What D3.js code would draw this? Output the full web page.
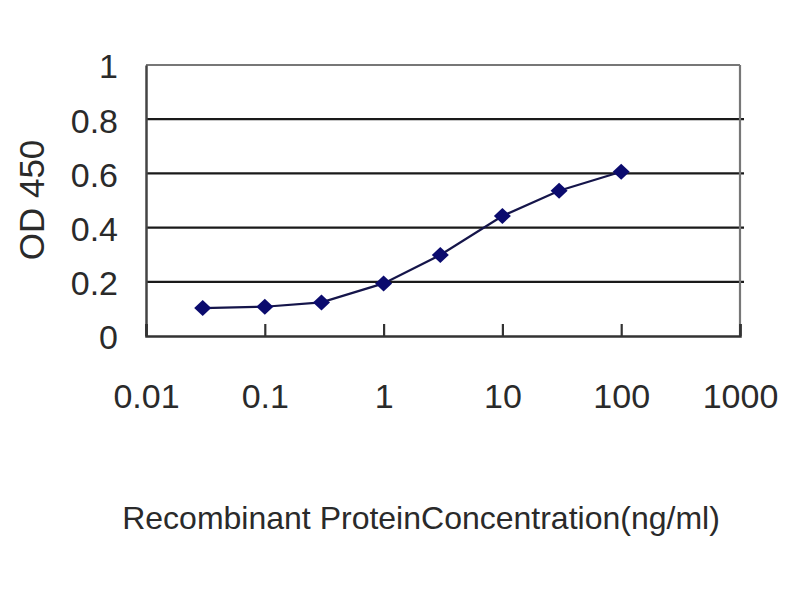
<!DOCTYPE html>
<html>
<head>
<meta charset="utf-8">
<script src="https://cdn.jsdelivr.net/npm/d3@7"></script>
<style>
  body { margin: 0; background: #fff; }
  text { font-family: "Liberation Sans", Arial, sans-serif; fill: #2a2a2a; }
</style>
</head>
<body>
<div id="chart-area"></div>
<script>
// concentration (ng/ml) and OD 450 readings
var concentrations = [0.03, 0.1, 0.3, 1, 3, 10, 30, 100];
var odValues = [0.103, 0.108, 0.124, 0.194, 0.299, 0.443, 0.536, 0.606];
var xTicks = [0.01, 0.1, 1, 10, 100, 1000];
var yTicks = [0, 0.2, 0.4, 0.6, 0.8, 1];

var margin = {left: 146, right: 60, top: 65, bottom: 264};
var width = 800 - margin.left - margin.right;
var height = 600 - margin.top - margin.bottom;

var svg = d3.select("#chart-area").append("svg")
    .attr("width", 800)
    .attr("height", 600);

var g = svg.append("g")
    .attr("transform", "translate(" + margin.left + "," + margin.top + ")");

var x = d3.scaleLog()
    .domain([0.01, 1000])
    .range([0, width]);

var y = d3.scaleLinear()
    .domain([0, 1])
    .range([height, 0]);

// gridlines
g.selectAll(".grid")
    .data(yTicks.filter(function(d){ return d > 0 && d < 1; }))
    .enter().append("line")
    .attr("class", "grid")
    .attr("x1", 0)
    .attr("x2", width + 4)
    .attr("y1", function(d){ return y(d); })
    .attr("y2", function(d){ return y(d); })
    .attr("stroke", "#1a1a1a")
    .attr("stroke-width", 2.2);

// plot frame (top and right)
g.append("line")
    .attr("x1", 0).attr("x2", width)
    .attr("y1", y(1)).attr("y2", y(1))
    .attr("stroke", "#777").attr("stroke-width", 2.2);
g.append("line")
    .attr("x1", width).attr("x2", width)
    .attr("y1", y(1)).attr("y2", y(0))
    .attr("stroke", "#777").attr("stroke-width", 2.2);

// y axis
var yAxisCall = d3.axisLeft(y)
    .tickValues(yTicks)
    .tickSize(0)
    .tickPadding(28)
    .tickFormat(function(d){ return d3.format("")(d); });
var yAxis = g.append("g")
    .attr("class", "y-axis")
    .call(yAxisCall);
yAxis.select(".domain").attr("stroke", "#444").attr("stroke-width", 2.5);
yAxis.selectAll("text")
    .attr("font-size", "34px")
    .attr("fill", "#2a2a2a")
    .attr("dy", "0.38em");

// x axis (ticks point upward into the plot)
var xAxisCall = d3.axisBottom(x)
    .tickValues(xTicks)
    .tickSize(-12)
    .tickPadding(28)
    .tickFormat(function(d){ return String(d); });
var xAxis = g.append("g")
    .attr("class", "x-axis")
    .attr("transform", "translate(0," + height + ")")
    .call(xAxisCall);
xAxis.select(".domain").attr("stroke", "#333").attr("stroke-width", 2.5);
xAxis.selectAll(".tick line").attr("stroke", "#333").attr("stroke-width", 2.2);
xAxis.selectAll("text")
    .attr("font-size", "34px")
    .attr("fill", "#2a2a2a")
    .attr("y", 72)
    .attr("dy", 0);

// axis titles
svg.append("text")
    .attr("transform", "rotate(-90)")
    .attr("x", -200)
    .attr("y", 44)
    .attr("font-size", "35px")
    .attr("text-anchor", "middle")
    .text("OD 450");

svg.append("text")
    .attr("x", 421)
    .attr("y", 529)
    .attr("font-size", "32px")
    .attr("text-anchor", "middle")
    .text("Recombinant ProteinConcentration(ng/ml)");

// data
var points = concentrations.map(function(c, i){ return {conc: c, od: odValues[i]}; });

var line = d3.line()
    .x(function(d){ return x(d.conc); })
    .y(function(d){ return y(d.od); });

g.append("path")
    .datum(points)
    .attr("fill", "none")
    .attr("stroke", "#15154a")
    .attr("stroke-width", 2.2)
    .attr("d", line);

g.selectAll(".marker")
    .data(points)
    .enter().append("path")
    .attr("class", "marker")
    .attr("d", "M0,-8 L8.5,0 L0,8 L-8.5,0 Z")
    .attr("fill", "#0b0b6e")
    .attr("transform", function(d){ return "translate(" + x(d.conc) + "," + y(d.od) + ")"; });
</script>
</body>
</html>
